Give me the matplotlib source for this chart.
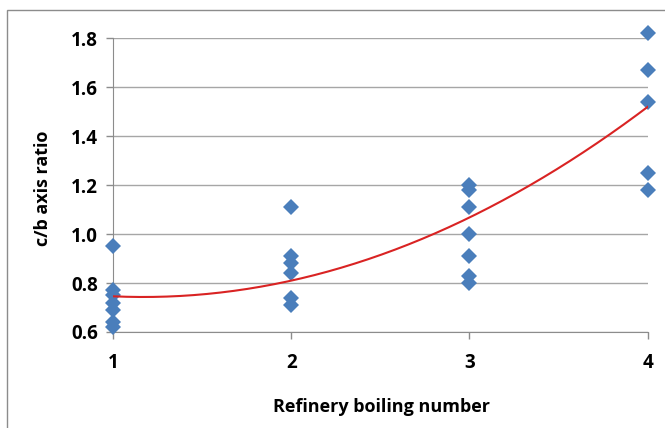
import numpy as np
import matplotlib.pyplot as plt
from matplotlib.patches import Rectangle

# boiling number groups and measured c/b ratios
bn_1 = [1, 1, 1, 1, 1, 1, 1]
cb_1 = [0.95, 0.77, 0.75, 0.72, 0.69, 0.64, 0.62]
bn_2 = [2, 2, 2, 2, 2, 2]
cb_2 = [1.11, 0.91, 0.88, 0.84, 0.74, 0.71]
bn_3 = [3, 3, 3, 3, 3, 3, 3]
cb_3 = [1.20, 1.18, 1.11, 1.00, 0.91, 0.83, 0.80]
bn_4 = [4, 4, 4, 4, 4]
cb_4 = [1.82, 1.67, 1.54, 1.25, 1.18]

# poly trendline (order 2), coefficients high -> low
trend_coef = [0.0969, -0.2267, 0.8755]

x = np.array(bn_1 + bn_2 + bn_3 + bn_4, dtype=float)
y = np.array(cb_1 + cb_2 + cb_3 + cb_4)

xs = np.linspace(1, 4, 200)
ys = np.polyval(trend_coef, xs)

plt.rcParams['font.family'] = ['Open Sans', 'DejaVu Sans']

fig = plt.figure(figsize=(6.65, 4.28), dpi=100)
ax = fig.add_axes([0.170, 0.2243, 0.804, 0.6869])

fig.patches.append(Rectangle((7 / 665, -0.1), 1.0, 1 - 10 / 428 + 0.1,
                             transform=fig.transFigure, fill=False,
                             edgecolor='#8c8c8c', linewidth=1.0))

ax.plot(x, y, 'D', color='#4a7ebb', markersize=8, markeredgewidth=0,
        clip_on=False, zorder=3)
ax.plot(xs, ys, color='#d92323', linewidth=1.5, zorder=4)

ax.set_xlim(1, 4)
ax.set_ylim(0.6, 1.8)
ax.set_xticks([1, 2, 3, 4])
ax.set_yticks(np.arange(0.6, 1.81, 0.2))
ax.set_yticklabels(['%.1f' % v for v in np.arange(0.6, 1.81, 0.2)])

ax.grid(axis='y', color='#a6a6a6', linewidth=1.0)
ax.set_axisbelow(True)
for s in ['top', 'right']:
    ax.spines[s].set_visible(False)
ax.spines['left'].set_color('#8c8c8c')
ax.spines['bottom'].set_color('#8c8c8c')
ax.tick_params(axis='both', colors='#8c8c8c', length=5, width=1,
               labelcolor='black', labelsize=13.5)
ax.tick_params(axis='x', pad=10)
ax.tick_params(axis='y', pad=6)
for lbl in ax.get_xticklabels() + ax.get_yticklabels():
    lbl.set_fontweight('bold')

xl = ax.set_xlabel('Refinery boiling number', fontsize=13, fontweight='bold', va='center')
yl = ax.set_ylabel('c/b axis ratio', fontsize=13, fontweight='bold', va='center')
ax.xaxis.set_label_coords(0.503, -0.255)
ax.yaxis.set_label_coords(-0.131, 0.49)

plt.savefig('out.png', dpi=100)
